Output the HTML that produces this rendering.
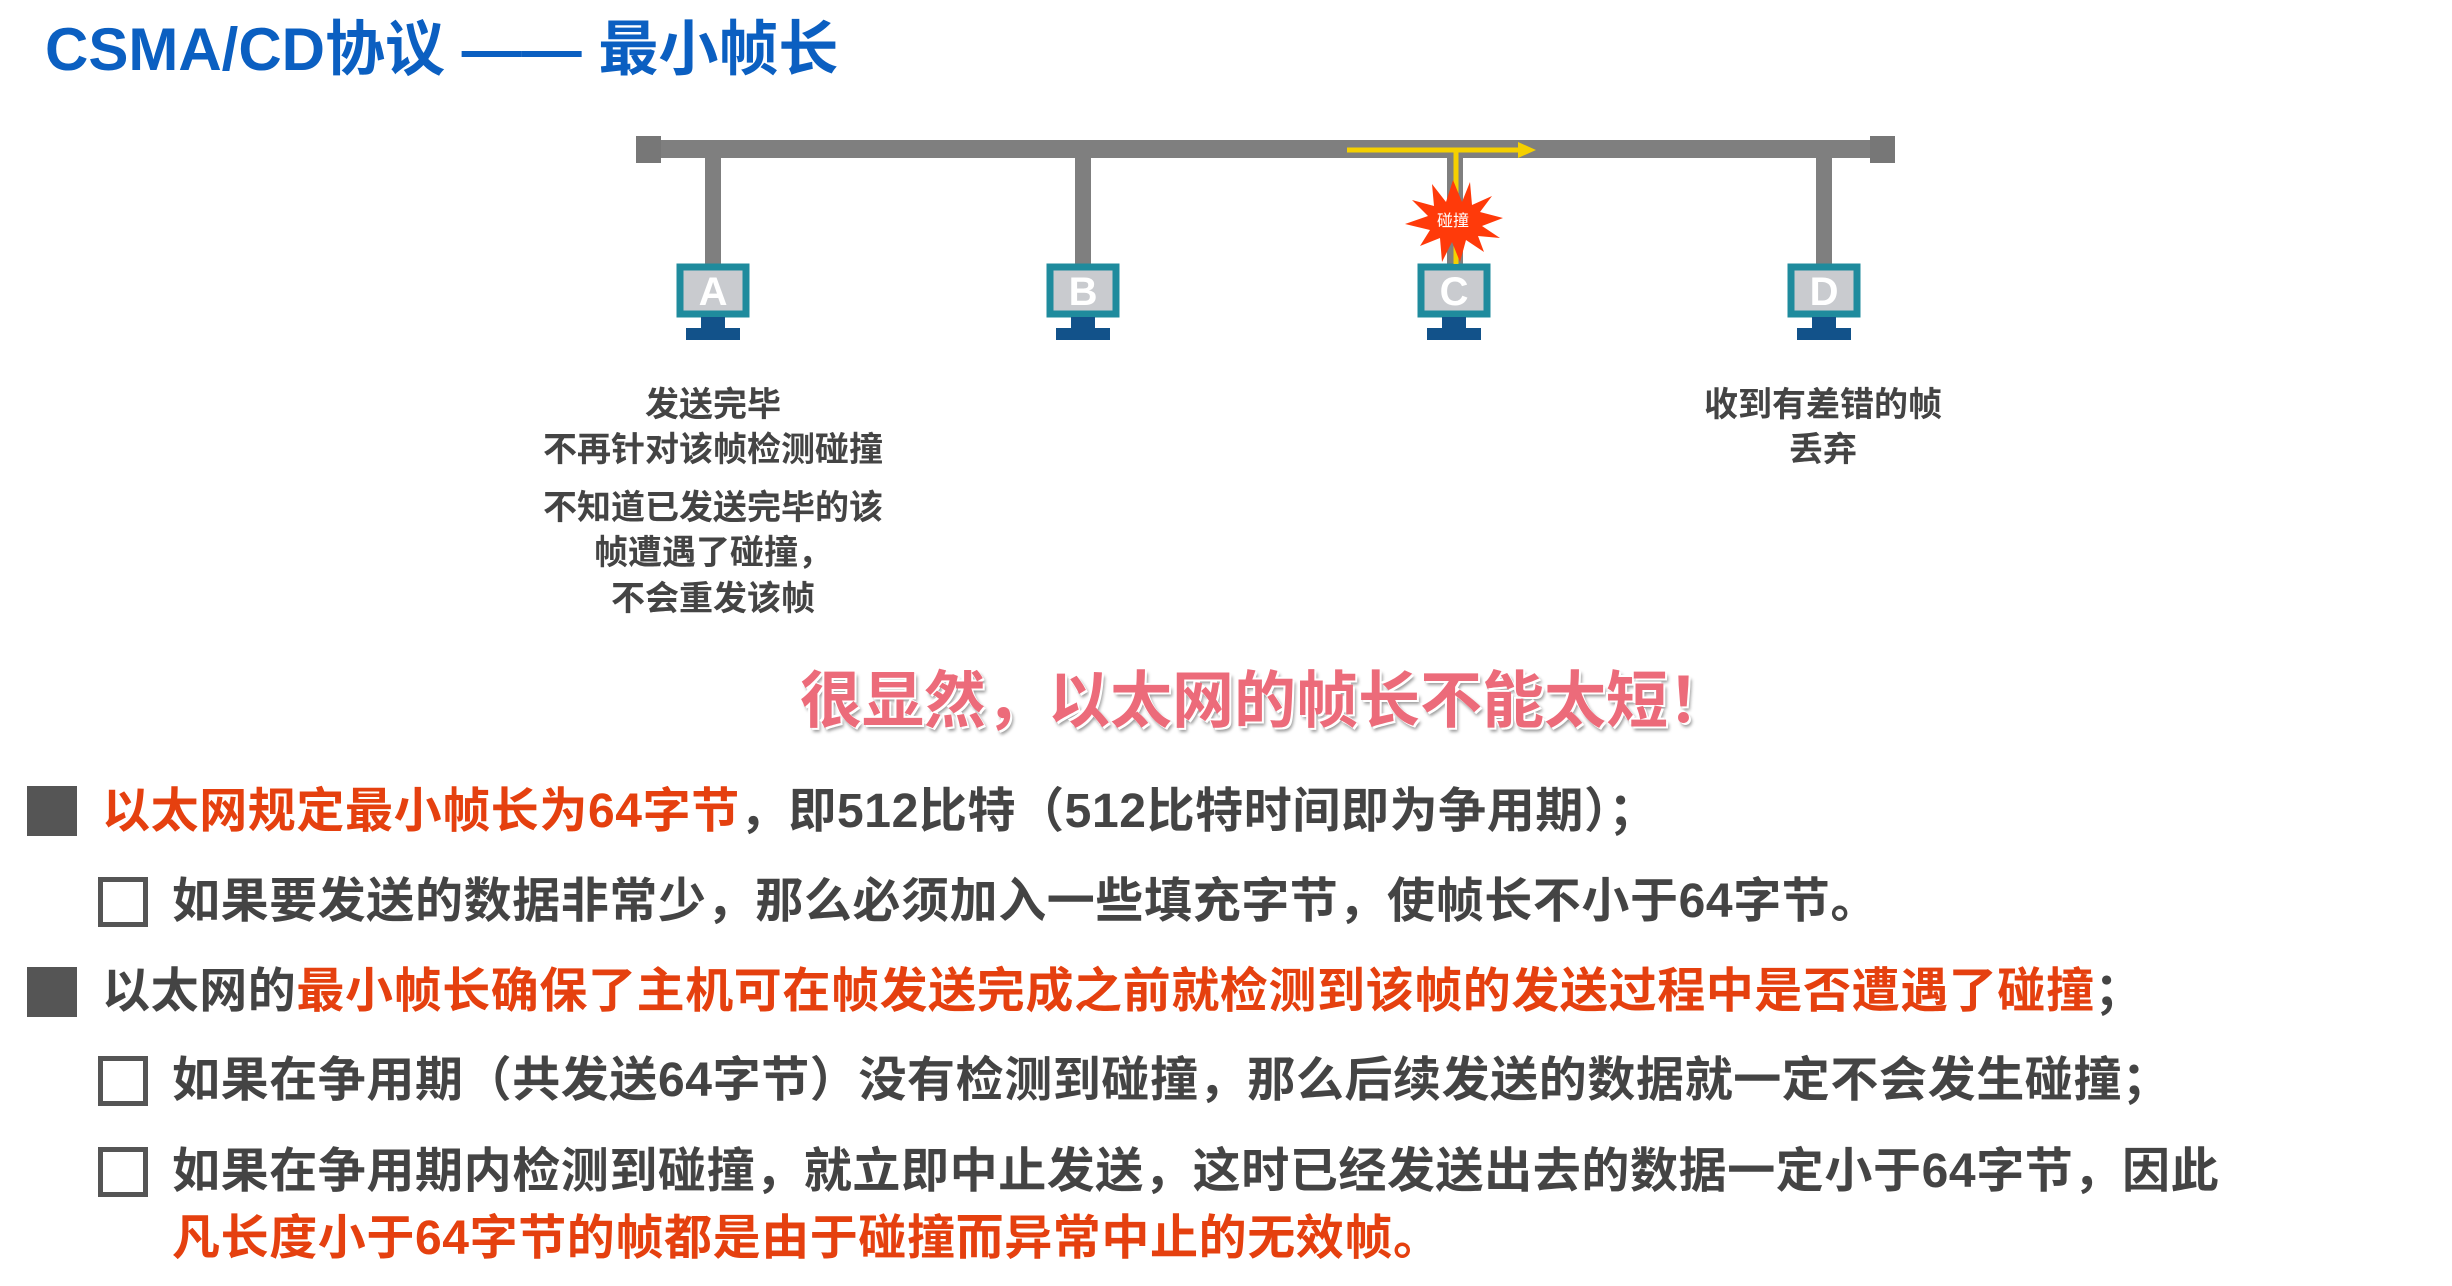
<!DOCTYPE html>
<html><head><meta charset="utf-8"><style>
body{margin:0;width:2452px;height:1286px;background:#fff;position:relative;overflow:hidden;font-family:"Liberation Sans","Noto Sans CJK SC",sans-serif}
.a{position:absolute;white-space:nowrap}
.t{font-weight:bold;font-size:48px;letter-spacing:0.6px;line-height:60px;color:#444;}
.r{color:#e5400f}
.lbl{font-weight:bold;font-size:34px;line-height:40px;color:#444;text-align:center;width:500px}
.sq{position:absolute;background:#555;width:50px;height:50px}
.cb{position:absolute;border:5px solid #555;width:40px;height:40px;box-sizing:content-box}
</style></head><body>
<div class="a" style="left:45px;top:10px;font-size:60px;line-height:80px;font-weight:bold;color:#0b5fc1">CSMA/CD协议 —— 最小帧长</div>

<svg class="a" style="left:0;top:0" width="2452" height="400">
<rect x="636" y="140" width="1259" height="18" fill="#7f7f7f"/>
<rect x="636" y="136" width="25" height="27" fill="#777"/>
<rect x="1870" y="136" width="25" height="27" fill="#777"/>
<g fill="#7f7f7f">
<rect x="705" y="156" width="16" height="110"/>
<rect x="1075" y="156" width="16" height="110"/>
<rect x="1447" y="156" width="16" height="110"/>
<rect x="1816" y="156" width="16" height="110"/>
</g>
<g font-family="Liberation Sans" font-weight="bold" font-size="40" fill="#fff" text-anchor="middle">
<g transform="translate(713,0)"><rect x="-33" y="267" width="66" height="47" fill="#c9cbcf" stroke="#1f8b9d" stroke-width="7"/><rect x="-12" y="317" width="24" height="12" fill="#12528a"/><rect x="-27" y="328" width="54" height="12" fill="#12528a"/><text x="0" y="305">A</text></g>
<g transform="translate(1083,0)"><rect x="-33" y="267" width="66" height="47" fill="#c9cbcf" stroke="#1f8b9d" stroke-width="7"/><rect x="-12" y="317" width="24" height="12" fill="#12528a"/><rect x="-27" y="328" width="54" height="12" fill="#12528a"/><text x="0" y="305">B</text></g>
<g transform="translate(1454,0)"><rect x="-33" y="267" width="66" height="47" fill="#c9cbcf" stroke="#1f8b9d" stroke-width="7"/><rect x="-12" y="317" width="24" height="12" fill="#12528a"/><rect x="-27" y="328" width="54" height="12" fill="#12528a"/><text x="0" y="305">C</text></g>
<g transform="translate(1824,0)"><rect x="-33" y="267" width="66" height="47" fill="#c9cbcf" stroke="#1f8b9d" stroke-width="7"/><rect x="-12" y="317" width="24" height="12" fill="#12528a"/><rect x="-27" y="328" width="54" height="12" fill="#12528a"/><text x="0" y="305">D</text></g>
</g>
<line x1="1347" y1="150" x2="1522" y2="150" stroke="#f5d000" stroke-width="5"/>
<polygon points="1518,142 1536,150 1518,158" fill="#f5d000"/>
<line x1="1456" y1="150" x2="1456" y2="264" stroke="#f5d000" stroke-width="5"/>
<polygon fill="#ff3a0a" points="1453,180 1462,202 1470,182 1472,205 1492,196 1480,212 1503,218 1482,226 1500,238 1478,236 1484,252 1466,240 1460,262 1452,242 1442,262 1440,238 1420,246 1430,230 1405,224 1428,216 1412,200 1434,206 1432,184 1446,202"/>
<text x="1453" y="226" font-size="16" fill="#fff" text-anchor="middle" font-family="Noto Sans CJK SC">碰撞</text>
</svg>

<div class="a lbl" style="left:463px;top:385px">发送完毕</div>
<div class="a lbl" style="left:463px;top:430px">不再针对该帧检测碰撞</div>
<div class="a lbl" style="left:463px;top:488px">不知道已发送完毕的该</div>
<div class="a lbl" style="left:463px;top:533px">帧遭遇了碰撞，</div>
<div class="a lbl" style="left:463px;top:579px">不会重发该帧</div>
<div class="a lbl" style="left:1573px;top:385px">收到有差错的帧</div>
<div class="a lbl" style="left:1573px;top:430px">丢弃</div>

<div class="a" style="left:800px;top:662px;font-size:62px;line-height:80px;font-weight:bold;color:#ec6b7a;text-shadow:-2px -2px 0 #fff,2px 2px 0 #fff,3px 4px 3px #999">很显然，以太网的帧长不能太短！</div>

<div class="sq" style="left:27px;top:786px"></div>
<div class="a t" style="left:102px;top:782px"><span class="r">以太网规定最小帧长为64字节</span>，即512比特（512比特时间即为争用期）；</div>
<div class="cb" style="left:98px;top:877px"></div>
<div class="a t" style="left:172px;top:872px">如果要发送的数据非常少，那么必须加入一些填充字节，使帧长不小于64字节。</div>
<div class="sq" style="left:27px;top:967px"></div>
<div class="a t" style="left:102px;top:962px">以太网的<span class="r">最小帧长确保了主机可在帧发送完成之前就检测到该帧的发送过程中是否遭遇了碰撞</span>；</div>
<div class="cb" style="left:98px;top:1056px"></div>
<div class="a t" style="left:172px;top:1051px">如果在争用期（共发送64字节）没有检测到碰撞，那么后续发送的数据就一定不会发生碰撞；</div>
<div class="cb" style="left:98px;top:1147px"></div>
<div class="a t" style="left:172px;top:1142px">如果在争用期内检测到碰撞，就立即中止发送，这时已经发送出去的数据一定小于64字节，因此</div>
<div class="a t r" style="left:172px;top:1209px">凡长度小于64字节的帧都是由于碰撞而异常中止的无效帧。</div>
</body></html>
